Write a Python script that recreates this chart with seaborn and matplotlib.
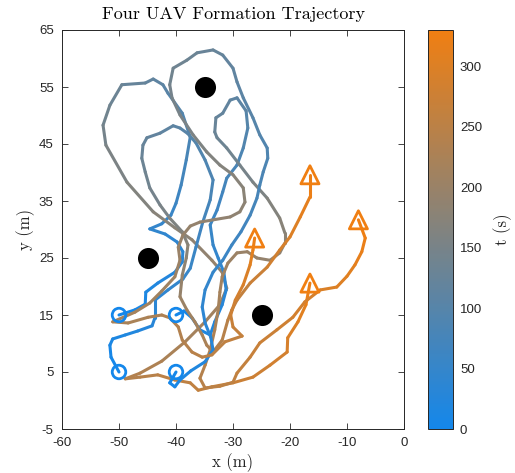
import numpy as np
import matplotlib
matplotlib.use("Agg")
import matplotlib.pyplot as plt
from matplotlib.collections import LineCollection
import seaborn as sns

# ---- data (x, y in m, t in s) ----
uav1_x = [-50.0, -47.2, -45.4, -45.3, -43.2, -40.2, -38.9, -38.8, -39.8, -41.9, -44.6, -42.5, -40.9, -40.0, -39.1,
          -38.2, -37.5, -38.9, -41.4, -42.3, -44.0, -45.4, -49.5, -51.6, -52.8, -52.3, -48.6, -44.0, -40.2, -37.2,
          -33.7, -31.9, -31.1, -32.3, -34.9, -38.4, -42.5, -46.3, -48.9, -46.3, -43.2, -40.2, -37.5, -36.1, -33.7,
          -30.0, -26.5, -23.5, -20.5, -20.4, -18.6, -17.2, -16.5]
uav1_y = [15.0, 15.9, 16.9, 19.0, 20.6, 22.5, 24.3, 26.1, 27.8, 29.2, 30.1, 31.0, 32.5, 34.6, 37.8,
          42.2, 46.2, 50.4, 53.9, 55.4, 56.4, 55.7, 55.4, 51.8, 48.3, 44.8, 38.3, 33.1, 30.3, 28.2,
          24.6, 22.5, 19.7, 16.8, 13.8, 10.3, 6.9, 4.8, 3.8, 4.1, 4.5, 3.6, 3.1, 1.8, 2.4,
          3.1, 4.1, 6.2, 8.5, 11.0, 13.8, 16.8, 20.6]
uav1_t = [0, 5, 10, 15, 20, 26, 30, 34, 38, 42, 46, 50, 55, 60, 67,
          76, 85, 94, 103, 108, 114, 119, 128, 136, 143, 150, 160, 170, 177, 183,
          191, 196, 202, 208, 214, 221, 228, 234, 238, 242, 247, 252, 256, 259, 263,
          269, 275, 281, 288, 293, 302, 313, 330]

uav2_x = [-40.0, -38.6, -37.2, -35.8, -34.0, -33.2, -31.9, -31.2, -31.6, -32.6, -33.5, -34.0, -32.8, -31.8, -31.1,
          -29.3, -28.2, -27.4, -27.7, -29.3, -30.5, -31.8, -33.0, -33.2, -32.8, -31.1, -28.8, -26.5, -24.0, -21.8,
          -20.9, -20.9, -21.8, -23.5, -25.8, -27.5, -29.3, -30.9, -31.9, -32.3, -32.6, -33.2, -34.0, -34.9, -35.8,
          -34.9, -32.3, -30.0, -29.3, -27.0, -25.3, -22.3, -19.5, -17.4, -14.7, -11.8, -10.0, -8.6, -7.4, -6.8, -8.0]
uav2_y = [15.0, 15.7, 14.5, 12.4, 11.5, 13.8, 16.8, 19.4, 22.5, 25.0, 27.3, 30.8, 33.4, 36.6, 39.0,
          41.3, 44.3, 47.8, 50.8, 53.1, 52.7, 50.4, 49.6, 47.1, 46.1, 44.3, 41.3, 38.3, 35.5, 32.0,
          29.4, 27.6, 25.9, 24.6, 25.0, 26.1, 25.9, 24.1, 21.7, 19.0, 15.9, 12.4, 8.9, 6.2, 3.9,
          2.2, 2.5, 3.2, 4.8, 7.6, 10.1, 12.4, 14.6, 17.3, 19.4, 19.9, 21.8, 23.8, 26.1, 28.5, 31.7]
uav2_t = [0, 4, 8, 13, 18, 23, 29, 35, 41, 46, 51, 58, 64, 70, 76,
          82, 89, 97, 104, 110, 114, 119, 123, 128, 131, 136, 144, 153, 162, 171,
          178, 182, 186, 190, 194, 198, 202, 206, 211, 216, 221, 227, 233, 238, 243,
          247, 251, 255, 259, 265, 270, 276, 282, 288, 294, 300, 305, 311, 317, 323, 330]

uav3_x = [-50.0, -51.4, -51.6, -51.1, -48.9, -46.7, -44.2, -43.7, -43.7, -41.4, -38.8, -37.5, -36.5, -35.3, -34.0,
          -33.5, -34.9, -36.5, -37.9, -39.3, -40.5, -42.8, -45.1, -45.8, -46.0, -45.4, -44.6, -42.8, -41.1, -38.9,
          -37.9, -38.2, -38.9, -39.3, -38.1, -36.7, -35.4, -34.6, -33.5, -31.9, -30.9, -30.2, -29.3, -27.0, -24.0,
          -21.8, -20.0, -18.2, -16.5, -16.5]
uav3_y = [5.0, 7.6, 9.7, 10.8, 11.5, 12.2, 13.1, 14.5, 17.6, 19.4, 21.3, 23.2, 26.9, 31.3, 35.2,
          38.7, 42.2, 45.2, 46.8, 47.8, 48.2, 46.9, 46.1, 44.8, 42.5, 40.1, 37.3, 34.3, 32.0, 29.6,
          27.3, 25.0, 22.0, 18.2, 15.9, 13.8, 11.5, 9.7, 8.5, 10.6, 14.1, 15.9, 17.6, 20.6, 23.4,
          26.4, 28.7, 32.2, 35.7, 39.6]
uav3_t = [0, 5, 10, 13, 18, 23, 28, 32, 38, 44, 50, 55, 62, 70, 77,
          84, 91, 97, 102, 106, 110, 115, 120, 124, 129, 135, 141, 149, 156, 164,
          172, 180, 189, 199, 206, 213, 221, 227, 233, 240, 248, 253, 258, 267, 277,
          287, 295, 306, 317, 330]

uav4_x = [-40.0, -41.1, -40.2, -39.3, -37.4, -34.9, -33.5, -33.9, -34.9, -35.4, -34.9, -33.5, -31.8, -30.2, -28.6,
          -27.0, -25.8, -25.3, -24.7, -23.9, -24.0, -25.3, -26.5, -28.2, -29.3, -30.0, -31.8, -33.5, -36.3, -38.1,
          -40.5, -41.1, -40.7, -39.3, -37.0, -34.6, -32.3, -30.0, -28.2, -27.9, -28.8, -30.5, -35.8, -37.5, -38.8,
          -39.6, -39.3, -40.2, -42.5, -44.6, -47.2, -51.1, -48.4, -44.9, -42.5, -41.1, -39.6, -38.9, -37.2, -35.4,
          -33.7, -31.4, -28.4, -30.0, -30.4, -29.6, -28.2, -27.0, -26.5, -26.2]
uav4_y = [5.0, 3.1, 2.4, 3.6, 5.2, 6.8, 8.9, 11.1, 13.6, 16.4, 19.4, 22.5, 24.6, 27.3, 29.6,
          32.5, 35.5, 37.8, 40.1, 42.5, 44.3, 46.6, 49.6, 53.1, 55.9, 58.3, 60.6, 61.5, 61.0, 59.7,
          58.3, 55.4, 53.1, 50.1, 46.6, 43.6, 41.3, 39.6, 37.3, 34.8, 33.1, 32.2, 31.3, 30.6, 29.0,
          26.9, 24.6, 21.7, 19.2, 17.1, 15.5, 13.8, 13.6, 14.6, 15.0, 14.5, 12.9, 10.6, 8.5, 7.6,
          8.0, 10.3, 11.3, 12.9, 15.0, 17.6, 20.3, 23.8, 26.4, 28.5]
uav4_t = [0, 4, 8, 12, 16, 21, 26, 31, 36, 41, 46, 51, 56, 61, 66,
          71, 76, 80, 84, 88, 92, 96, 101, 107, 112, 116, 121, 125, 130, 134,
          138, 143, 147, 152, 157, 162, 167, 171, 175, 179, 182, 185, 190, 193, 196,
          199, 202, 206, 210, 213, 217, 221, 224, 227, 230, 232, 235, 239, 243, 247,
          250, 255, 262, 267, 273, 281, 290, 302, 314, 330]

obstacle_x = [-35, -45, -25]
obstacle_y = [55, 25, 15]
t_max = 330

paths = [(uav1_x, uav1_y, uav1_t), (uav2_x, uav2_y, uav2_t),
         (uav3_x, uav3_y, uav3_t), (uav4_x, uav4_y, uav4_t)]

sns.set_style("ticks")
plt.rcParams['font.family'] = ['Liberation Sans', 'DejaVu Sans']
plt.rcParams['axes.unicode_minus'] = False
plt.rcParams['xtick.direction'] = 'in'
plt.rcParams['ytick.direction'] = 'in'

blue = "#1487EB"
orange = "#F07F12"
cmap = sns.blend_palette([blue, orange], as_cmap=True)
norm = plt.Normalize(0, t_max)
dark = "#262626"
serif = 'cmr10'

fig = plt.figure(figsize=(5.15, 4.73), dpi=100)
ax = fig.add_axes([62 / 515, 44 / 473, 342 / 515, 399 / 473])
cax = fig.add_axes([428 / 515, 44 / 473, 25 / 515, 399 / 473])

for xs, ys, ts in paths:
    pts = np.column_stack([xs, ys])
    segs = np.stack([pts[:-1], pts[1:]], axis=1)
    ts = np.asarray(ts, dtype=float)
    lc = LineCollection(segs, cmap=cmap, norm=norm, linewidths=2.2,
                        capstyle='round', joinstyle='round')
    lc.set_array((ts[:-1] + ts[1:]) / 2)
    ax.add_collection(lc)

start_x = [p[0][0] for p in paths]
start_y = [p[1][0] for p in paths]
end_x = [p[0][-1] for p in paths]
end_y = [p[1][-1] for p in paths]

sns.scatterplot(x=start_x, y=start_y, ax=ax, marker='o', s=95, facecolors='none',
                edgecolor=blue, linewidth=2.0, zorder=4)
sns.scatterplot(x=end_x, y=end_y, ax=ax, marker='^', s=170, facecolors='none',
                edgecolor=orange, linewidth=2.0, zorder=4)
sns.scatterplot(x=obstacle_x, y=obstacle_y, ax=ax, color='black', s=230,
                edgecolor='black', linewidth=0, zorder=5)

ax.set_xlim(-60, 0)
ax.set_ylim(-5, 65)
ax.set_xticks(range(-60, 1, 10))
ax.set_yticks(range(-5, 66, 10))
ax.tick_params(top=True, right=True, length=4, width=0.6, colors=dark, labelsize=9.5)
ax.tick_params(axis='x', pad=6)
ax.tick_params(axis='y', pad=6)
for s in ax.spines.values():
    s.set_color(dark)
    s.set_linewidth(0.7)

ax.set_title("Four UAV Formation Trajectory", family=serif, fontsize=13, color='black', pad=8)
ax.set_xlabel("x (m)", family=serif, fontsize=12, color=dark, labelpad=3)
ax.set_ylabel("y (m)", family=serif, fontsize=12, color=dark, labelpad=3)

sm = plt.cm.ScalarMappable(cmap=cmap, norm=norm)
cb = fig.colorbar(sm, cax=cax)
cb.set_ticks(range(0, 301, 50))
cb.ax.tick_params(direction='in', length=3, width=0.6, colors=dark, labelsize=9.5, pad=5)
cb.outline.set_edgecolor(dark)
cb.outline.set_linewidth(0.7)
cb.set_label("t (s)", family=serif, fontsize=12, color=dark, labelpad=8)

fig.savefig("out.png", dpi=100)
